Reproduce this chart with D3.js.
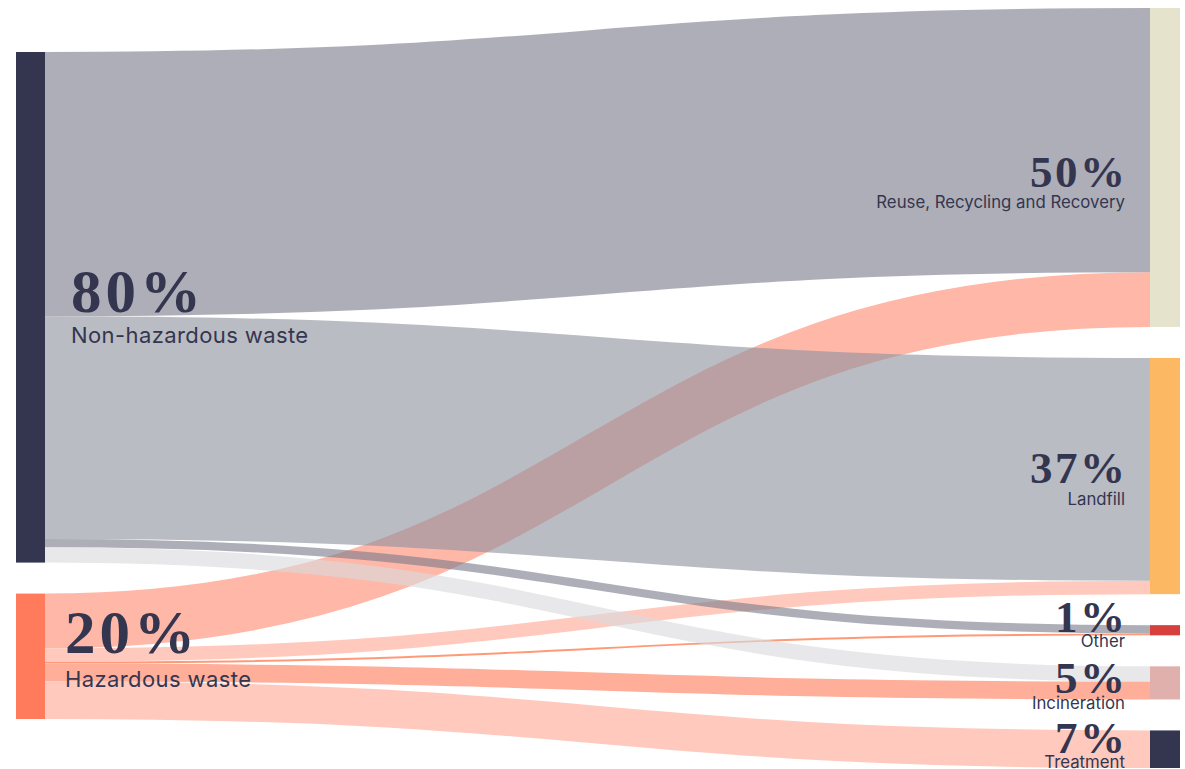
<!DOCTYPE html>
<html>
<head>
<meta charset="utf-8">
<script src="https://cdn.jsdelivr.net/npm/d3@7"></script>
<style>
  html, body { margin: 0; padding: 0; background: #ffffff; }
  svg { display: block; }
</style>
</head>
<body>
<svg id="chart" width="1185" height="769"></svg>
<script>
// ---------- DATA ----------
const sources = ["Non-hazardous waste", "Hazardous waste"];
const sourcePct = ["80%", "20%"];
const targets = ["Reuse, Recycling and Recovery", "Landfill", "Other", "Incineration", "Treatment"];
const targetPct = ["50%", "37%", "1%", "5%", "7%"];
// flow values (% of total waste) from each source to each target
const flowNonHazardous = [41.5, 35.0, 1.3, 2.4, 0];
const flowHazardous = [8.6, 2.1, 0.3, 2.8, 5.9];

// ---------- STYLE / LAYOUT ----------
const W = 1185, H = 769;
const sourceColors = ["#343650", "#ff7b5c"];
const targetColors = ["#e6e3cd", "#fdb863", "#d63f3b", "#e0b0ac", "#343650"];
const linkStyle = [
  [ {c: "rgb(122,122,139)", o: 0.61}, {c: "rgb(143,145,158)", o: 0.61}, {c: "rgb(122,122,139)", o: 0.61}, {c: "rgb(217,217,220)", o: 0.61}, {c: "#ffffff", o: 0} ],
  [ {c: "#ffb7a8", o: 1}, {c: "#ffcabd", o: 1}, {c: "#ff9a78", o: 1}, {c: "#ffae9a", o: 1}, {c: "#ffcabd", o: 1} ]
];
const nodeWidth = 29, rightNodeWidth = 30;
const leftX = 16, rightX = 1150;
const topY = 8, bottomY = 768, pad = 31, leftTop = 52;
const textColor = "#343650";
// label baseline offsets from node centre: [percent, subtitle]
const srcLabel = [ {dx: 26, dy: [5, 36]}, {dx: 20, dy: [-3, 31]} ];
const tgtLabel = [ [20, 41], [6.5, 28.5], [2, 17], [10, 26], [4, 19] ];

// ---------- LAYOUT ----------
const flows = [flowNonHazardous, flowHazardous];
const srcTotals = flows.map(f => d3.sum(f));
const tgtTotals = targets.map((t, j) => d3.sum(flows, f => f[j]));
const maxCol = Math.max(d3.sum(srcTotals), d3.sum(tgtTotals));
const ky = d3.scaleLinear().domain([0, maxCol]).range([0, (bottomY - topY) - pad * (targets.length - 1)]);

const srcNodes = sources.map((name, i) => ({name, pct: sourcePct[i], value: srcTotals[i]}));
let yPos = leftTop;
srcNodes.forEach(n => { n.y0 = yPos; n.y1 = yPos + ky(n.value); yPos = n.y1 + pad; });
const tgtNodes = targets.map((name, j) => ({name, pct: targetPct[j], value: tgtTotals[j]}));
yPos = topY;
tgtNodes.forEach(n => { n.y0 = yPos; n.y1 = yPos + ky(n.value); yPos = n.y1 + pad; });

// links
const links = [];
flows.forEach((f, i) => f.forEach((v, j) => { if (v > 0) links.push({s: i, t: j, value: v, width: ky(v)}); }));
srcNodes.forEach((n, i) => {
  let yy = n.y0;
  links.filter(l => l.s === i).sort((a, b) => a.t - b.t).forEach(l => { l.ys = yy + l.width / 2; yy += l.width; });
});
tgtNodes.forEach((n, j) => {
  let yy = n.y0;
  links.filter(l => l.t === j).sort((a, b) => a.s - b.s).forEach(l => { l.yt = yy + l.width / 2; yy += l.width; });
});

const svg = d3.select("#chart");
const linkGen = d3.linkHorizontal().x(d => d[0]).y(d => d[1]);
const lx0 = leftX + nodeWidth, lx1 = rightX;

// draw hazardous links first, non-hazardous on top
const order = links.slice().sort((a, b) => b.s - a.s);
svg.append("g").attr("fill", "none")
  .selectAll("path").data(order).join("path")
  .attr("d", l => linkGen({source: [lx0, l.ys], target: [lx1, l.yt]}))
  .attr("stroke", l => linkStyle[l.s][l.t].c)
  .attr("stroke-opacity", l => linkStyle[l.s][l.t].o)
  .attr("stroke-width", l => l.width);

// nodes
svg.append("g").selectAll("rect").data(srcNodes).join("rect")
  .attr("x", leftX).attr("width", nodeWidth)
  .attr("y", d => d.y0).attr("height", d => d.y1 - d.y0)
  .attr("fill", (d, i) => sourceColors[i]);
svg.append("g").selectAll("rect").data(tgtNodes).join("rect")
  .attr("x", rightX).attr("width", rightNodeWidth)
  .attr("y", d => d.y0).attr("height", d => d.y1 - d.y0)
  .attr("fill", (d, j) => targetColors[j]);

// source labels
const sl = svg.append("g").attr("fill", textColor);
srcNodes.forEach((n, i) => {
  const cy = (n.y0 + n.y1) / 2, tx = lx0 + srcLabel[i].dx;
  sl.append("text").attr("x", tx).attr("y", cy + srcLabel[i].dy[0])
    .attr("font-family", "'Liberation Serif', serif").attr("font-weight", 700)
    .attr("font-size", 61).attr("letter-spacing", 4).text(n.pct);
  sl.append("text").attr("x", tx).attr("y", cy + srcLabel[i].dy[1])
    .attr("font-family", "Inter, sans-serif").attr("font-size", 22)
    .attr("letter-spacing", 0.4).text(n.name);
});

// target labels
const tl = svg.append("g").attr("fill", textColor).attr("text-anchor", "end");
tgtNodes.forEach((n, j) => {
  const cy = (n.y0 + n.y1) / 2, tx = rightX - 25;
  tl.append("text").attr("x", tx + 2.5).attr("y", cy + tgtLabel[j][0])
    .attr("font-family", "'Liberation Serif', serif").attr("font-weight", 700)
    .attr("font-size", 45).attr("letter-spacing", 2.5).text(n.pct);
  tl.append("text").attr("x", tx).attr("y", cy + tgtLabel[j][1])
    .attr("font-family", "Inter, sans-serif").attr("font-size", 16.8).text(n.name);
});
</script>
</body>
</html>
